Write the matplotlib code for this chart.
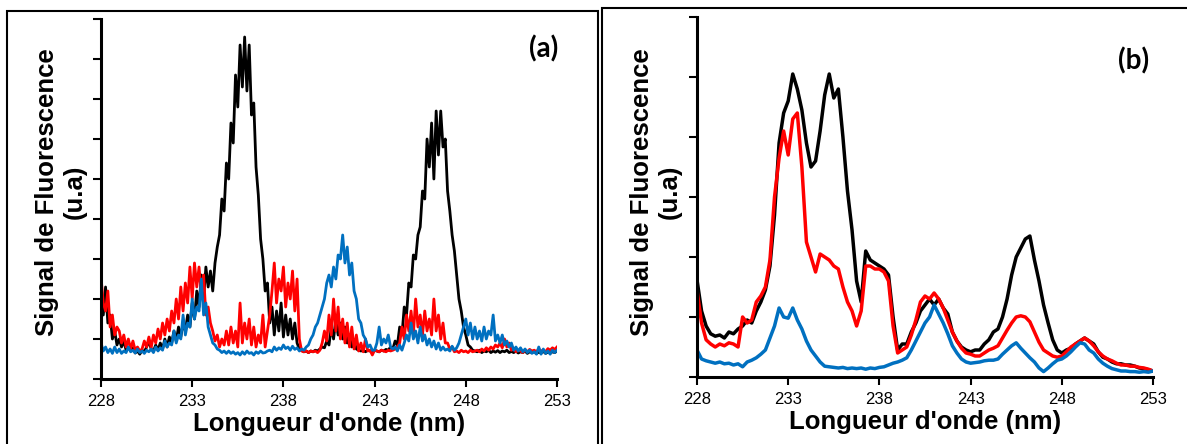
import matplotlib.pyplot as plt
import numpy as np
from matplotlib.patches import Rectangle

x_ticks = [228, 233, 238, 243, 248, 253]

# ---- panel (a): one sample every 0.125 nm from 228 nm (8 per row = 1 nm) ----
a_step = 0.125
a_black = [
    2.0, 1.6, 2.3, 1.4, 1.6, 1.0, 1.2, 0.85,
    1.0, 0.8, 0.95, 0.72, 0.8, 0.7, 0.78, 0.65,
    0.7, 0.62, 0.72, 0.68, 0.8, 0.95, 0.75, 0.7,
    0.85, 0.72, 0.9, 0.75, 1.0, 0.8, 1.05, 0.9,
    1.2, 0.95, 1.3, 1.05, 1.4, 1.2, 1.6, 1.3,
    1.9, 1.5, 2.2, 1.8, 2.6, 2.0, 2.8, 2.3,
    2.7, 2.2, 2.9, 3.3, 3.6, 4.5, 4.2, 5.4,
    5.0, 6.4, 5.9, 7.6, 6.8, 8.35, 7.3, 8.55,
    7.2, 8.35, 6.6, 6.9, 5.3, 4.6, 3.5, 3.0,
    2.2, 2.4, 1.4, 1.8, 1.1, 1.7, 1.2, 1.9,
    1.05, 1.6, 1.1, 1.5, 1.0, 1.4, 0.9, 0.75,
    0.72, 0.68, 0.7, 0.66, 0.7, 0.68, 0.72, 0.7,
    0.75, 0.8, 0.78, 0.95, 0.85, 1.3, 1.0, 1.5,
    1.1, 1.4, 1.0, 1.3, 0.9, 1.1, 0.8, 0.95,
    0.75, 0.72, 0.7, 0.72, 0.68, 0.72, 0.7, 0.68,
    0.72, 0.7, 0.68, 0.72, 0.7, 0.74, 0.72, 0.8,
    0.75, 0.95, 0.85, 1.3, 1.1, 1.8, 1.6, 2.4,
    2.3, 3.1, 3.0, 3.6, 3.8, 4.7, 4.5, 6.0,
    5.3, 6.4, 5.0, 6.7, 5.6, 6.7, 5.8, 6.0,
    4.7, 4.2, 3.6, 3.2, 2.6, 2.0, 1.7, 1.3,
    1.1, 0.85, 0.8, 0.72, 0.7, 0.68, 0.72, 0.66,
    0.7, 0.68, 0.72, 0.66, 0.7, 0.67, 0.71, 0.66,
    0.7, 0.68, 0.72, 0.66, 0.69, 0.66, 0.7, 0.65,
    0.68, 0.66, 0.7, 0.64, 0.68, 0.66, 0.69, 0.64,
    0.67, 0.65, 0.69, 0.64, 0.67, 0.65, 0.68, 0.66,
    0.7,
]
a_red = [
    2.55, 1.9, 1.7, 2.2, 1.3, 1.6, 1.1, 1.3,
    1.2, 0.9, 1.1, 0.8, 1.0, 0.75, 0.95, 0.72,
    0.8, 0.7, 0.75, 0.95, 0.8, 1.05, 0.78, 1.1,
    0.9, 1.25, 1.0, 1.4, 1.1, 1.5, 1.2, 1.7,
    1.4, 2.0, 1.5, 2.3, 1.7, 2.4, 1.9, 2.8,
    2.0, 2.9, 2.3, 2.8, 2.1, 2.6, 1.6, 1.8,
    1.4, 1.2, 0.95, 1.1, 0.8, 1.0, 0.85, 1.2,
    0.85, 1.3, 0.9, 1.2, 0.8, 1.9, 0.9, 1.4,
    1.0, 1.5, 0.85, 1.3, 0.8, 1.1, 0.9, 1.6,
    0.8, 1.2, 1.6, 2.2, 2.9, 1.9, 2.5, 2.2,
    2.8, 1.8, 2.4, 2.0, 2.7, 1.7, 2.5, 1.0,
    0.7, 0.68, 0.7, 0.66, 0.7, 0.68, 0.7, 0.66,
    0.72, 0.9, 1.2, 0.95, 1.6, 1.1, 2.0, 1.2,
    1.8, 1.0, 1.5, 0.9, 1.4, 0.8, 1.3, 0.75,
    1.1, 0.7, 0.9, 0.68, 1.0, 0.7, 0.72, 0.6,
    0.72, 0.7, 0.68, 0.72, 0.7, 0.68, 0.72, 0.7,
    0.72, 0.75, 0.8, 0.9, 1.3, 1.0, 1.6, 1.2,
    1.7, 1.1, 2.0, 1.3, 1.6, 1.1, 1.7, 1.2,
    1.5, 1.1, 2.0, 1.2, 1.6, 1.0, 1.4, 0.9,
    0.9, 0.75, 0.8, 0.68, 0.7, 0.66, 0.72, 0.68,
    0.7, 0.66, 0.72, 0.68, 0.7, 0.72, 0.68, 0.75,
    0.7, 0.78, 0.72, 0.8, 0.75, 0.85, 0.8, 0.9,
    0.78, 1.0, 0.8, 0.9, 0.72, 0.75, 0.68, 0.72,
    0.7, 0.66, 0.72, 0.68, 0.74, 0.7, 0.72, 0.68,
    0.75, 0.7, 0.72, 0.68, 0.76, 0.72, 0.78, 0.74,
    0.8,
]
a_blue = [
    0.9, 0.7, 0.8, 0.66, 0.75, 0.64, 0.8, 0.66,
    0.75, 0.64, 0.7, 0.66, 0.8, 0.68, 0.72, 0.65,
    0.75, 0.66, 0.7, 0.64, 0.72, 0.68, 0.75, 0.66,
    0.8, 0.7, 0.78, 0.72, 0.95, 0.8, 0.9, 0.85,
    1.2, 0.9, 1.1, 1.0, 1.6, 1.1, 1.4, 1.3,
    2.0, 1.5, 1.8, 1.7, 2.5, 1.6, 1.9, 1.3,
    1.1, 0.9, 0.85, 0.75, 0.72, 0.66, 0.7, 0.64,
    0.7, 0.64, 0.68, 0.62, 0.66, 0.6, 0.68, 0.62,
    0.7, 0.64, 0.66, 0.6, 0.68, 0.64, 0.7, 0.65,
    0.66, 0.7, 0.72, 0.68, 0.8, 0.72, 0.78, 0.74,
    0.85, 0.76, 0.8, 0.72, 0.82, 0.74, 0.78, 0.7,
    0.75, 0.72, 0.8, 0.85, 1.0, 1.1, 1.3, 1.4,
    1.6, 1.8, 2.0, 2.4, 2.6, 2.3, 2.8, 2.5,
    3.1, 3.0, 3.6, 2.9, 3.3, 2.6, 2.9, 2.2,
    2.0, 1.5, 1.4, 1.1, 1.0, 0.8, 0.85, 0.72,
    0.72, 0.9, 1.3, 0.85, 1.0, 0.9, 1.1, 0.8,
    0.75, 0.8, 0.7, 0.85, 0.72, 0.9, 1.1, 0.95,
    1.4, 1.0, 1.2, 0.9, 1.3, 0.95, 1.1, 0.85,
    1.0, 0.8, 0.95, 0.75, 0.9, 0.72, 0.8, 0.72,
    0.75, 0.7, 0.82, 0.72, 0.78, 0.9, 1.1, 1.3,
    1.5, 1.1, 1.4, 1.0, 1.3, 1.0, 1.2, 0.95,
    1.3, 1.0, 1.2, 1.1, 1.6, 0.95, 1.1, 0.9,
    1.1, 0.85, 0.95, 0.8, 0.9, 0.72, 0.8, 0.7,
    0.78, 0.68, 0.75, 0.66, 0.72, 0.64, 0.68, 0.62,
    0.8, 0.62, 0.75, 0.64, 0.7, 0.62, 0.72, 0.66,
    0.72,
]

# ---- panel (b): one sample every 0.25 nm from 228 nm ----
b_step = 0.25
b_black = [
    1.62, 1.1, 0.85, 0.72, 0.68, 0.7, 0.65, 0.75, 0.72, 0.8,
    0.85, 0.95, 0.9, 1.1, 1.25, 1.45, 1.85, 2.7, 3.9, 4.4,
    4.6, 5.05, 4.8, 4.45, 3.9, 3.5, 3.6, 4.1, 4.7, 5.05,
    4.65, 4.8, 4.0, 3.1, 2.45, 1.6, 1.25, 2.1, 1.95, 1.9,
    1.85, 1.8, 1.7, 1.0, 0.45, 0.55, 0.55, 0.75, 0.9, 1.1,
    1.2, 1.3, 1.2, 1.3, 1.15, 1.05, 0.75, 0.6, 0.5, 0.45,
    0.42, 0.45, 0.45, 0.55, 0.62, 0.75, 0.8, 1.0, 1.3, 1.7,
    2.0, 2.15, 2.3, 2.35, 1.95, 1.6, 1.2, 0.9, 0.62, 0.45,
    0.4, 0.45, 0.48, 0.55, 0.6, 0.65, 0.6, 0.55, 0.42, 0.33,
    0.3, 0.25, 0.22, 0.22, 0.2, 0.2, 0.18, 0.15, 0.14, 0.12,
    0.1,
]
b_red = [
    1.45, 0.9, 0.62, 0.55, 0.5, 0.55, 0.52, 0.57, 0.55, 0.5,
    1.0, 0.9, 0.95, 1.25, 1.35, 1.5, 1.95, 3.0, 3.65, 4.1,
    3.7, 4.3, 4.4, 3.5, 2.25, 2.0, 1.75, 2.05, 2.0, 1.95,
    1.85, 1.8, 1.5, 1.25, 1.1, 0.85, 1.1, 1.85, 1.85, 1.8,
    1.8, 1.75, 1.6, 0.85, 0.4, 0.45, 0.5, 0.7, 0.95, 1.25,
    1.35, 1.3, 1.4, 1.3, 1.15, 0.95, 0.75, 0.6, 0.48, 0.4,
    0.38, 0.35, 0.35, 0.4, 0.45, 0.48, 0.52, 0.65, 0.78, 0.9,
    1.0, 1.02, 1.0, 0.92, 0.75, 0.58, 0.45, 0.4, 0.35, 0.33,
    0.35, 0.42, 0.5, 0.55, 0.6, 0.65, 0.6, 0.52, 0.42, 0.35,
    0.3, 0.27, 0.23, 0.2, 0.2, 0.18, 0.18, 0.16, 0.15, 0.13,
    0.1,
]
b_blue = [
    0.45, 0.3, 0.27, 0.25, 0.23, 0.25, 0.22, 0.23, 0.2, 0.22,
    0.17, 0.25, 0.28, 0.32, 0.38, 0.45, 0.65, 0.85, 1.15, 1.0,
    0.98, 1.15, 0.95, 0.8, 0.6, 0.45, 0.35, 0.25, 0.18, 0.17,
    0.16, 0.15, 0.16, 0.14, 0.15, 0.14, 0.15, 0.13, 0.15, 0.14,
    0.16, 0.17, 0.2, 0.23, 0.25, 0.28, 0.32, 0.45, 0.6, 0.75,
    0.9, 1.0, 1.2, 1.05, 0.9, 0.72, 0.52, 0.4, 0.3, 0.25,
    0.23, 0.24, 0.25, 0.27, 0.28, 0.28, 0.3, 0.38, 0.45, 0.52,
    0.57, 0.48, 0.4, 0.32, 0.25, 0.15, 0.09, 0.15, 0.22, 0.28,
    0.3, 0.35, 0.42, 0.5, 0.57, 0.55, 0.45, 0.4, 0.3, 0.23,
    0.18, 0.14, 0.12, 0.1, 0.1, 0.09, 0.09, 0.08, 0.09, 0.08,
    0.1,
]

colors = ["#000000", "#FF0000", "#0070C0"]
font = ["Liberation Sans", "DejaVu Sans"]

W, H = 1187, 444
fig = plt.figure(figsize=(W / 100, H / 100), dpi=100)

# panel frames
for x0, y0, x1 in [(7, 11, 598), (602, 8, 1190)]:
    fig.patches.append(Rectangle((x0 / W, -0.05), (x1 - x0) / W, 1.05 - y0 / H,
                                 transform=fig.transFigure, fill=False,
                                 edgecolor="black", linewidth=1.5))


def draw_panel(left_px, bottom_px, top_px, ymax, step, series, lw, tag, tag_xy, ylab_x):
    ax = fig.add_axes([left_px / W, (H - bottom_px) / H, 456 / W, (bottom_px - top_px) / H])
    for s, c in zip(series, colors):
        wl = 228 + step * np.arange(len(s))
        ax.plot(wl, s, color=c, linewidth=lw)
    ax.set_xlim(228, 253)
    ax.set_ylim(0, ymax)
    ax.set_xticks(x_ticks)
    ax.set_xticklabels([str(t) for t in x_ticks], family=font, fontsize=12)
    ax.set_yticks(np.arange(0, ymax + 1))
    ax.set_yticklabels([])
    for side in ["top", "right"]:
        ax.spines[side].set_visible(False)
    for side in ["left", "bottom"]:
        ax.spines[side].set_linewidth(2.2)
    ax.tick_params(direction="out", length=6, width=1.5, pad=5)
    ax.set_xlabel("Longueur d'onde (nm)", family=font, fontsize=18.5,
                  fontweight="bold", labelpad=2)
    fig.text(ylab_x / W, (H - 192) / H, "Signal de Fluorescence\n(u.a)",
             rotation=90, ha="center", va="center", multialignment="center",
             family=font, fontsize=18.5, fontweight="bold", linespacing=1.2)
    fig.text(tag_xy[0] / W, (H - tag_xy[1]) / H, tag, ha="center", va="center",
             family=["Lato", "DejaVu Sans"], fontsize=20, fontweight="bold")
    return ax


draw_panel(101, 379, 19, 9, a_step, [a_black, a_red, a_blue], 2.0, "(a)", (544, 49), 61)
draw_panel(697, 377, 17, 6, b_step, [b_black, b_red, b_blue], 2.5, "(b)", (1134, 61), 656)

plt.savefig("out.png", dpi=100)
print("Saved: out.png")
